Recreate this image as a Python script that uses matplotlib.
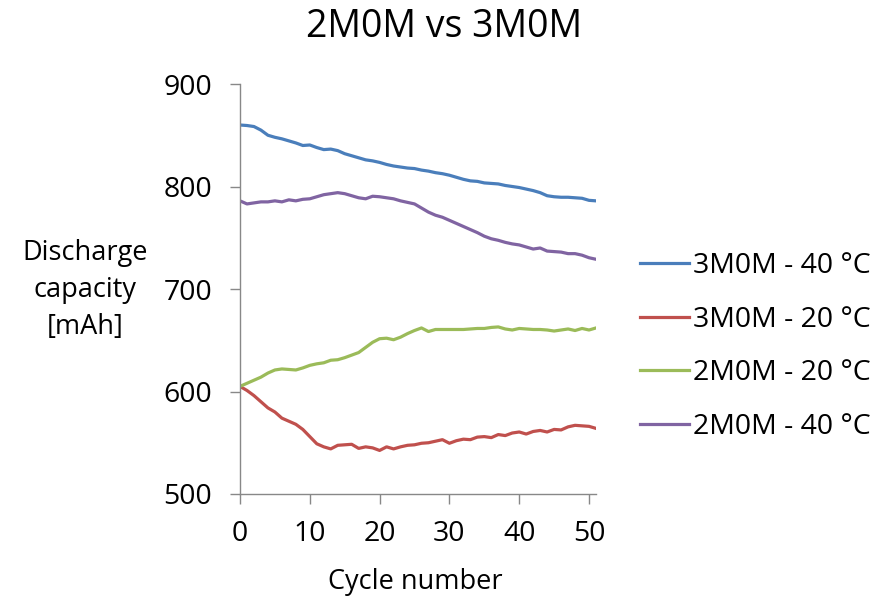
import numpy as np
import matplotlib
matplotlib.use("Agg")
import matplotlib.pyplot as plt

plt.rcParams['font.family'] = ['Open Sans', 'DejaVu Sans']

cycles = list(range(52))

cap_3m0m_40 = [860, 859.5, 858.5, 855, 850, 848, 846.5, 844.5, 842.5, 840,
               840.5, 838, 836, 836.5, 835, 832, 830, 828, 826, 825,
               823.5, 821.5, 820, 819, 818, 817.5, 816, 815, 813.5, 812.5,
               811, 809, 807, 805.5, 805, 803.5, 803, 802.5, 801, 800,
               799, 797.5, 796, 794, 791, 790, 789.5, 789.5, 789, 788.5,
               786.5, 786]

cap_3m0m_20 = [605, 601, 596, 590, 584, 580, 574, 571, 568, 563,
               556, 549, 546, 544, 547.5, 548, 548.5, 544.5, 546, 545,
               542.5, 546, 544, 546, 547.5, 548, 549.5, 550, 551.5, 553,
               549.5, 552, 553.5, 553, 555.5, 556, 555, 558, 557, 559.5,
               560.5, 558.5, 561, 562, 560.5, 563, 562.5, 565.5, 567, 566.5,
               566, 564]

cap_2m0m_20 = [605, 608, 611, 614, 618, 621, 622, 621.5, 621, 623,
               625.5, 627, 628, 630.5, 631, 633, 635.5, 638, 643, 648,
               651.5, 652, 650.5, 653, 656.5, 659.5, 662, 658.5, 660.5, 660.5,
               660.5, 660.5, 660.5, 661, 661.5, 661.5, 662.5, 663, 661, 660,
               661.5, 661, 660.5, 660.5, 660, 659, 660, 661, 659.5, 661.5,
               660, 662]

cap_2m0m_40 = [786, 783, 784, 785, 785, 786, 785, 787, 786, 787.5,
               788, 790, 792, 793, 794, 793, 791, 789, 788, 790.5,
               790, 789, 788, 786, 784.5, 783, 779, 775, 772, 770,
               767, 764, 761, 758, 755, 751.5, 749, 747.5, 745.5, 744,
               743, 741, 739, 740, 737, 736.5, 736, 734.5, 734.5, 733,
               730.5, 729]

series_labels = ['3M0M - 40 °C', '3M0M - 20 °C', '2M0M - 20 °C', '2M0M - 40 °C']
series_colors = ['#4A7EBB', '#C0504D', '#9BBB59', '#8064A2']
x_ticks = [0, 10, 20, 30, 40, 50]
y_ticks = [500, 600, 700, 800, 900]

fig = plt.figure(figsize=(8.9, 5.98), dpi=100)
ax = fig.add_axes([240 / 890, 1 - 494 / 598, (596 - 240) / 890, (494 - 84) / 598])

for vals, lab, col in zip([cap_3m0m_40, cap_3m0m_20, cap_2m0m_20, cap_2m0m_40],
                          series_labels, series_colors):
    ax.plot(cycles, vals, color=col, lw=2.3, label=lab, solid_joinstyle='round')

ax.set_xlim(0, 51)
ax.set_ylim(500, 900)
ax.set_xticks(x_ticks)
ax.set_yticks(y_ticks)

axis_col = '#888888'
for side in ['top', 'right']:
    ax.spines[side].set_visible(False)
for side in ['left', 'bottom']:
    ax.spines[side].set_color(axis_col)
    ax.spines[side].set_linewidth(1.0)
ax.tick_params(axis='both', colors=axis_col, labelcolor='#000000',
               labelsize=20.5, direction='out', length=7, width=1.0)
ax.tick_params(axis='x', pad=12)
ax.tick_params(axis='y', pad=13)

fig.text(415 / 890, 1 - 582 / 598, 'Cycle number', ha='center', va='center', fontsize=19.5)
fig.text(85 / 890, 1 - 290 / 598, 'Discharge\ncapacity\n[mAh]', ha='center', va='center',
         fontsize=19.5, linespacing=1.42)

fig.text(444 / 890, 1 - 27 / 598, '2M0M vs 3M0M', ha='center', va='center', fontsize=27)

leg = fig.legend(loc='upper left', bbox_to_anchor=(640 / 890, 1 - 252 / 598),
                 frameon=False, fontsize=20.5, handlelength=1.72, handletextpad=0.14,
                 labelspacing=0.9, borderaxespad=0, borderpad=0)

fig.savefig('out.png', dpi=100)
